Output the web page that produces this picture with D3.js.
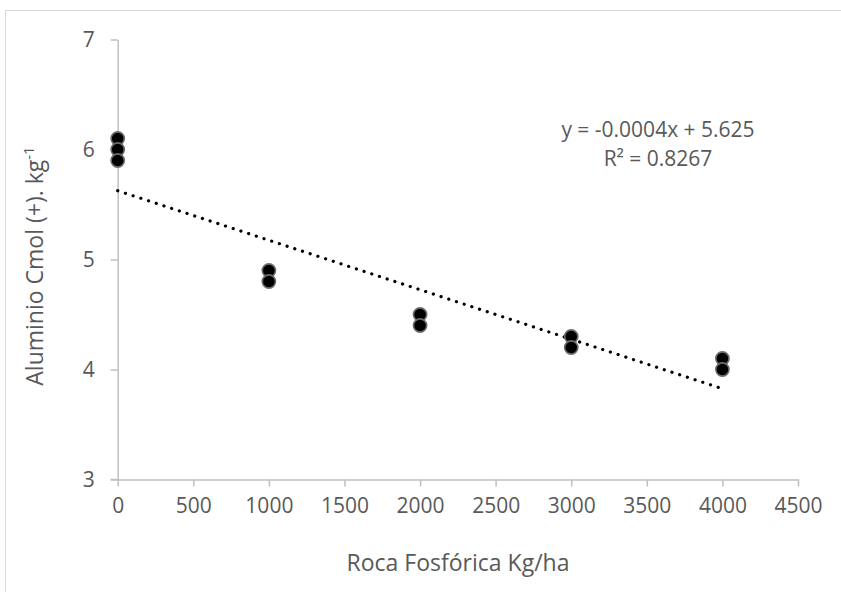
<!DOCTYPE html>
<html>
<head>
<meta charset="utf-8">
<script src="https://cdn.jsdelivr.net/npm/d3@7"></script>
<style>
    body { margin: 0; background: #fff; }
    text { font-family: "Open Sans", "Noto Sans", sans-serif; fill: #595959; }
</style>
</head>
<body>
<div id="chart"></div>
<script>
// dose of phosphate rock (kg/ha) and measured aluminium
var dosis = [0, 0, 0, 1000, 1000, 2000, 2000, 3000, 3000, 4000, 4000];
var aluminio = [6.1, 6.0, 5.9, 4.9, 4.8, 4.5, 4.4, 4.3, 4.2, 4.1, 4.0];
var xTicks = [0, 500, 1000, 1500, 2000, 2500, 3000, 3500, 4000, 4500];
var yTicks = [3, 4, 5, 6, 7];
// trend line as drawn (Excel rounds the label)
var trendSlope = -0.00045;
var trendIntercept = 5.625;
var trendRange = [0, 4000];
var equationLines = ["y = -0.0004x + 5.625", "R² = 0.8267"];

var width = 841, height = 592;
var margin = {left: 117.7, top: 39.5, right: 43, bottom: 112.5};

var svg = d3.select("#chart").append("svg")
    .attr("width", width)
    .attr("height", height);

// outer chart border
svg.append("rect")
    .attr("x", 5.5).attr("y", 10.5)
    .attr("width", width).attr("height", height)
    .attr("fill", "none")
    .attr("stroke", "#d9d9d9");

var x = d3.scaleLinear()
    .domain([0, 4500])
    .range([margin.left, width - margin.right]);

var y = d3.scaleLinear()
    .domain([3, 7])
    .range([height - margin.bottom, margin.top]);

var xAxis = d3.axisBottom(x).tickValues(xTicks).tickFormat(d3.format("d"))
    .tickSize(7).tickSizeOuter(0).tickPadding(12);
var yAxis = d3.axisLeft(y).tickValues(yTicks).tickFormat(d3.format("d"))
    .tickSize(7).tickSizeOuter(0).tickPadding(16);

var gx = svg.append("g")
    .attr("transform", "translate(0," + y(3) + ")")
    .call(xAxis);

var gy = svg.append("g")
    .attr("transform", "translate(" + x(0) + ",0)")
    .call(yAxis);

[gx, gy].forEach(function(g) {
    g.select(".domain").attr("stroke", "#bfbfbf").attr("stroke-width", 1.5);
    g.selectAll(".tick line").attr("stroke", "#bfbfbf").attr("stroke-width", 1.5);
    g.selectAll(".tick text")
        .attr("font-size", 21)
        .attr("font-family", "'Open Sans', sans-serif")
        .attr("fill", "#595959");
});
// x axis line also runs under the y ticks
gx.append("line")
    .attr("x1", x(0) - 7).attr("x2", x(0))
    .attr("stroke", "#bfbfbf").attr("stroke-width", 1.5);

// trend line
var line = d3.line()
    .x(function(d) { return x(d); })
    .y(function(d) { return y(trendSlope * d + trendIntercept); });

svg.append("path")
    .attr("d", line(trendRange))
    .attr("fill", "none")
    .attr("stroke", "#000")
    .attr("stroke-width", 3.2)
    .attr("stroke-linecap", "round")
    .attr("stroke-dasharray", "0.1 8");

// points
svg.selectAll("circle.pt")
    .data(dosis)
    .enter().append("circle")
    .attr("class", "pt")
    .attr("cx", function(d) { return x(d); })
    .attr("cy", function(d, i) { return y(aluminio[i]); })
    .attr("r", 6.6)
    .attr("fill", "#000")
    .attr("stroke", "#6b6b6b")
    .attr("stroke-width", 1.6);

// equation label
svg.append("text")
    .attr("text-anchor", "middle")
    .attr("font-size", 21)
    .selectAll("tspan")
    .data(equationLines)
    .enter().append("tspan")
    .attr("x", 658)
    .attr("y", function(d, i) { return 137 + i * 29; })
    .text(function(d) { return d; });

// axis titles
svg.append("text")
    .attr("text-anchor", "middle")
    .attr("font-size", 23)
    .attr("x", 458)
    .attr("y", 571)
    .text("Roca Fosfórica Kg/ha");

var yt = svg.append("text")
    .attr("text-anchor", "middle")
    .attr("font-size", 23)
    .attr("transform", "translate(43," + 266 + ")rotate(-90)");
yt.append("tspan").text("Aluminio Cmol (+). kg");
yt.append("tspan").attr("font-size", 15).attr("dy", -9).text("-1");
</script>
</body>
</html>
